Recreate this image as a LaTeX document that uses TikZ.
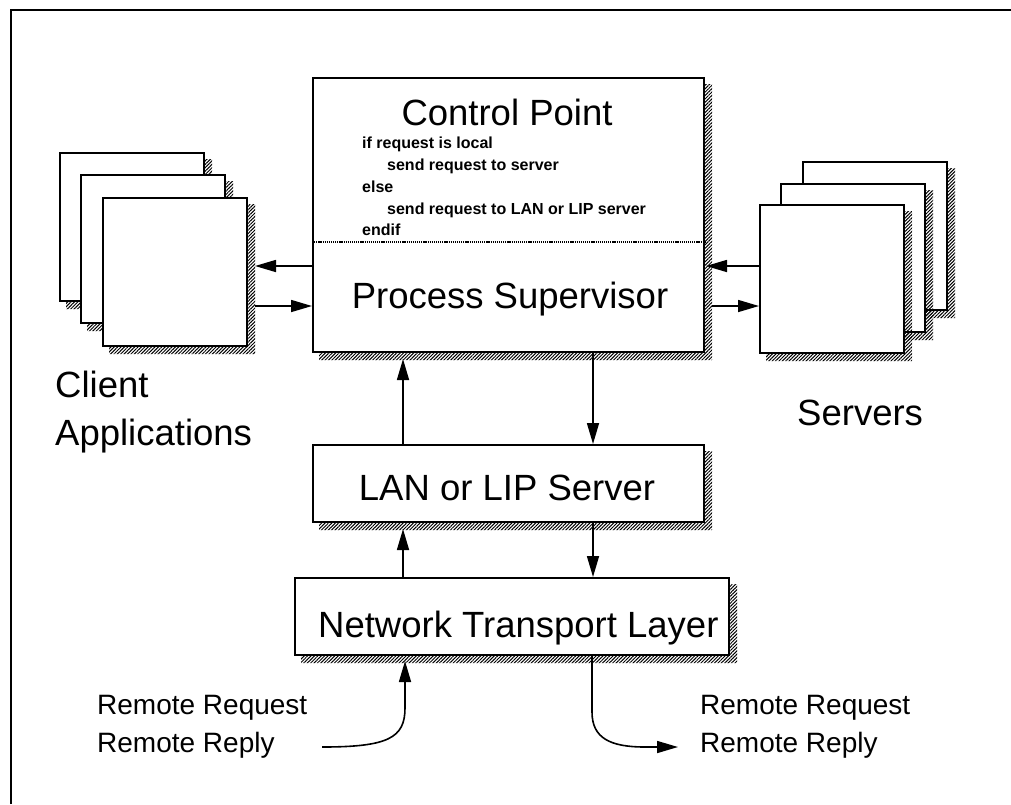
\documentclass[tikz,border=0pt]{standalone}
\usepackage{fontspec}
\setmainfont{Liberation Sans}
\usetikzlibrary{arrows.meta,calc,patterns.meta}

% boxed text shadow: an L-shaped hatched strip along the right and bottom edges
\newcommand\boxshadow[1]{%
  \path[hatch] ($(#1.south west)+(7,0)$) -- (#1.south east)
    -- ($(#1.north east)+(0,7)$) -- ($(#1.north east)+(7,7)$)
    -- ($(#1.south east)+(7,7)$) -- ($(#1.south west)+(7,7)$) -- cycle;}

\begin{document}
\begin{tikzpicture}[x=1pt,y=-1pt,
  box/.style={draw, line width=2pt, fill=white, anchor=north west, inner sep=0pt},
  page/.style={box, minimum width=144pt, minimum height=148pt},
  hatch/.style={pattern={Lines[angle=45,distance=2.4pt,line width=1pt]}, pattern color=black},
  conn/.style={line width=1.6pt, -{Triangle[length=21pt,width=12pt]}},
  big/.style={font=\fontsize{36.5}{40}\selectfont, inner sep=0pt},
  code/.style={font=\fontsize{16}{19}\selectfont\bfseries, anchor=base west, inner sep=0pt},
  remote/.style={font=\fontsize{28}{32}\selectfont, anchor=base west, inner sep=0pt}
]
\useasboundingbox (0,0) rectangle (1011,804);

% outer frame (top and left edges)
\draw[line width=2pt] (11,804) -- (11,10) -- (1011,10);

% control point / process supervisor
\node[box, minimum width=391pt, minimum height=274pt] (cp) at (312,77) {};
\boxshadow{cp}
\coordinate (dotL) at (313,242);
\draw[line width=1.3pt, dash pattern=on 1.2pt off 0.9pt] (cp.west |- dotL) -- (cp.east |- dotL);

% client application pages
\node[page] (cl1) at (59,152) {};  \boxshadow{cl1}
\node[page] (cl2) at (80,174) {};  \boxshadow{cl2}
\node[page] (cl3) at (102,197) {}; \boxshadow{cl3}

% server pages
\node[page] (sv1) at (802,161) {}; \boxshadow{sv1}
\node[page] (sv2) at (780,183) {}; \boxshadow{sv2}
\node[page] (sv3) at (759,204) {}; \boxshadow{sv3}

% LAN server and transport layer
\node[box, minimum width=391pt, minimum height=77pt] (lan) at (312,444) {};
\boxshadow{lan}
\node[box, minimum width=434pt, minimum height=77pt] (ntl) at (294,577) {};
\boxshadow{ntl}

% texts
\node[big, anchor=base] (cptitle) at (507,125) {Control Point};
\node[code] (c1) at (362,148) {if request is local};
\node[code] (c2) at (387,170) {send request to server};
\node[code] (c3) at (362,192) {else};
\node[code] (c4) at (387,214) {send request to LAN or LIP server};
\node[code] (c5) at (362,235) {endif};
\node[big, anchor=base] (pstitle) at (510,308) {Process Supervisor};
\node[big, anchor=base] (lantitle) at (507,500) {LAN or LIP Server};
\node[big, anchor=base west] (ntltitle) at (318,637) {Network Transport Layer};
\node[big, anchor=base west] (clA) at (55,397) {Client};
\node[big, anchor=base west] (clB) at (55,445) {Applications};
\node[big, anchor=base west] (svlab) at (797,425) {Servers};
\node[remote] (rq1) at (97,714) {Remote Request};
\node[remote] (rq2) at (97,752) {Remote Reply};
\node[remote] (rp1) at (700,714) {Remote Request};
\node[remote] (rp2) at (700,752) {Remote Reply};

% side connectors
\coordinate (yOut) at (0,266);
\coordinate (yIn) at (0,306);
\draw[conn] (cp.west |- yOut) -- ($(cl3.east |- yOut)+(7,0)$);
\draw[conn] ($(cl3.east |- yIn)+(7,0)$) -- (cp.west |- yIn);
\draw[conn] (sv3.west |- yOut) -- ($(cp.east |- yOut)+(1,0)$);
\draw[conn] ($(cp.east |- yIn)+(7,0)$) -- (sv3.west |- yIn);

% vertical connectors
\coordinate (xUp) at (403,0);
\coordinate (xDn) at (593,0);
\draw[conn] (lan.north -| xUp) -- ($(cp.south -| xUp)+(0,6)$);
\draw[conn] (cp.south -| xDn) -- (lan.north -| xDn);
\draw[conn] (ntl.north -| xUp) -- ($(lan.south -| xUp)+(0,6)$);
\draw[conn] (lan.south -| xDn) -- (ntl.north -| xDn);

% remote request / reply paths
\coordinate (reqIn) at (322,747);
\coordinate (bendIn) at (405,708);
\draw[conn] (reqIn) .. controls (388,747) and (405,738) .. (bendIn)
  -- ($(ntl.south -| bendIn)+(0,5)$);
\coordinate (bendOut) at (592,712);
\coordinate (turnOut) at (645,747);
\coordinate (repOut) at (678,747);
\draw[conn] (ntl.south -| bendOut) -- (bendOut)
  .. controls (592,738) and (610,747) .. (turnOut) -- (repOut);
\end{tikzpicture}
\end{document}
